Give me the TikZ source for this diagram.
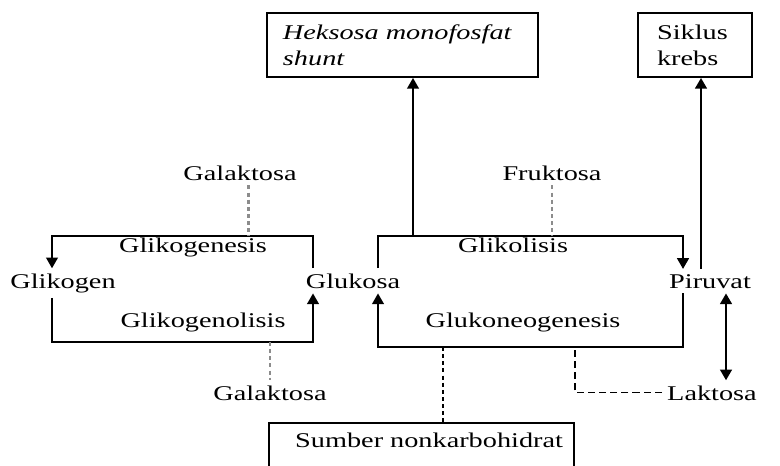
\documentclass[tikz,border=0pt]{standalone}
\usepackage{fontspec}
\setmainfont{Liberation Serif}
\newfontfamily\widefont[FakeStretch=1.35]{Liberation Serif}
\usepackage{xcolor}
\usepackage{tikz}
\usetikzlibrary{arrows.meta}
\definecolor{DGray}{RGB}{140,140,140}
\tikzset{
  lbl/.style={font=\widefont\fontsize{8.8}{10.9}\selectfont, inner sep=2pt, anchor=base},
  boxnode/.style={draw, line width=0.8pt, font=\widefont\fontsize{8.8}{10.9}\selectfont, align=left},
  arr/.style={line width=0.6pt, -{Triangle[width=5pt,length=4.5pt]}},
  dblarr/.style={line width=0.8pt, {Triangle[width=5pt,length=4.5pt]}-{Triangle[width=5pt,length=4.5pt]}},
  gdot/.style={DGray, line width=1.2pt, dash pattern=on 1.7pt off 1.3pt},
  sdot/.style={black, line width=0.9pt, dash pattern=on 1.7pt off 1.3pt},
  ldash/.style={black, line width=0.5pt, dash pattern=on 3pt off 1.7pt}
}

\begin{document}
\begin{tikzpicture}[x=0.42pt,y=-0.42pt]
  \useasboundingbox (0,0) rectangle (780,465);
  \fill[white] (0,0) rectangle (780,465);
  \clip (0,0) rectangle (780,465);

  \node[boxnode, font=\widefont\fontsize{8.8}{10.9}\selectfont\itshape,
        minimum width=113.8pt, minimum height=26.9pt,
        text width=100.4pt, inner xsep=6.7pt, inner ysep=1pt]
        (heksosa) at (402.5,45) {Heksosa monofosfat\\ shunt};
  \node[boxnode, minimum width=47.9pt, minimum height=26.9pt,
        text width=31.9pt, inner xsep=8pt, inner ysep=1pt]
        (siklus) at (695,45) {Siklus\\ krebs};
  \node[boxnode, anchor=north west, align=right,
        minimum width=128.1pt, text height=6.5pt, text depth=10pt,
        text width=118.9pt, inner xsep=4.6pt, inner ysep=4pt]
        (sumber) at (268,422) {Sumber nonkarbohidrat};

  \node[lbl] (galaktosaA) at (240,180) {Galaktosa};
  \node[lbl] (fruktosa) at (552,180) {Fruktosa};
  \node[lbl] (glikogenesis) at (193,252) {Glikogenesis};
  \node[lbl] (glikolisis) at (513,252) {Glikolisis};
  \node[lbl] (glikogen) at (63,288) {Glikogen};
  \node[lbl] (glukosa) at (353,288) {Glukosa};
  \node[lbl] (piruvat) at (710,288) {Piruvat};
  \node[lbl] (glikogenolisis) at (203,327) {Glikogenolisis};
  \node[lbl] (glukoneogenesis) at (523,327) {Glukoneogenesis};
  \node[lbl] (galaktosaB) at (270,400) {Galaktosa};
  \node[lbl] (laktosa) at (712,400) {Laktosa};

  \coordinate (lt1) at (52,236);
  \coordinate (lt2) at (313,236);
  \coordinate (lb1) at (52,342);
  \coordinate (lb2) at (313,342);
  \coordinate (rt1) at (378,236);
  \coordinate (rt2) at (683,236);
  \coordinate (rb1) at (378,347);
  \coordinate (rb2) at (683,347);
  \coordinate (hx) at (413,236);
  \coordinate (kx) at (701,0);
  \coordinate (px) at (726,0);
  \coordinate (sx) at (443,0);

  \draw[arr] (glukosa.north -| lt2) -- (lt2) -- (lt1) -- (glikogen.north -| lt1);
  \draw[arr] (glikogen.south -| lb1) -- (lb1) -- (lb2) -- (glukosa.south -| lb2);
  \draw[arr] (glukosa.north -| rt1) -- (rt1) -- (rt2) -- (piruvat.north -| rt2);
  \draw[arr] (piruvat.south -| rb2) -- (rb2) -- (rb1) -- (glukosa.south -| rb1);

  \draw[arr] (hx) -- (heksosa.south -| hx);
  \draw[arr, line width=0.8pt] (piruvat.north -| kx) -- (siklus.south -| kx);
  \draw[dblarr] (piruvat.south -| px) -- (laktosa.north -| px);

  \draw[gdot] ([xshift=3.4pt]galaktosaA.south) -- ([xshift=3.4pt]galaktosaA.south |- lt1);
  \draw[gdot] (fruktosa.south) -- (fruktosa.south |- rt1);
  \draw[gdot] (galaktosaB.north |- lb1) -- (galaktosaB.north);
  \draw[sdot] (rb1 -| sx) -- (sumber.north -| sx);
  \draw[ldash] (laktosa.west) -| (sumber.north east |- rb1);
\end{tikzpicture}
\end{document}
